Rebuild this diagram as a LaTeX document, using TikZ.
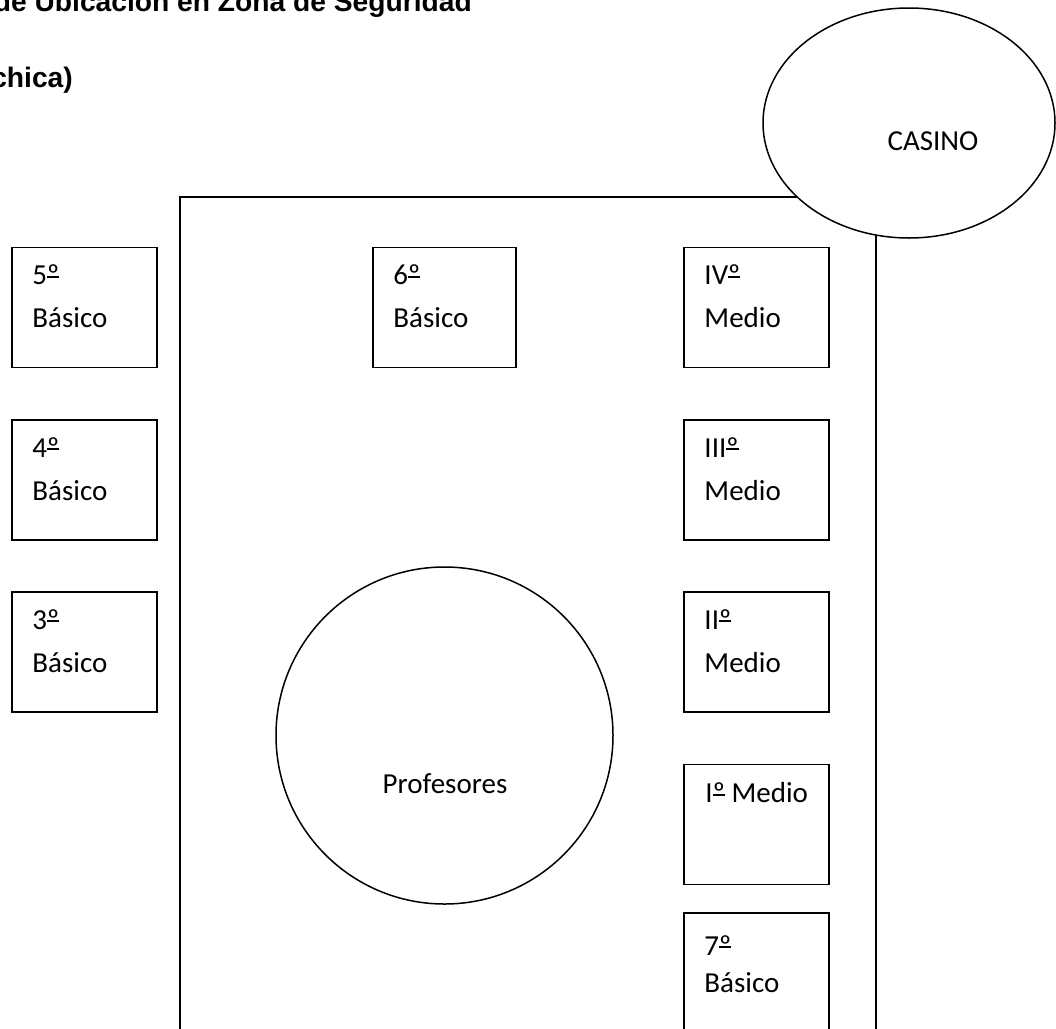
\documentclass[tikz,border=0pt]{standalone}
\usepackage{fontspec}
\setmainfont{Carlito}
\newfontfamily\titlefont{Liberation Sans}
\usetikzlibrary{shapes.geometric,calc}
\newcommand\ordm{\setbox0\hbox{º}\rlap{º}\raisebox{0.25em}{\rule{\wd0}{0.055em}}}
\begin{document}
\begin{tikzpicture}[x=1pt,y=-1pt,
  room/.style={draw, line width=1.5pt, minimum width=145pt, minimum height=120pt, inner sep=0pt, fill=white},
  lbl/.style={anchor=base west, inner sep=0pt, font=\fontsize{29}{34}\selectfont},
  clbl/.style={anchor=base, inner sep=0pt, font=\fontsize{29}{34}\selectfont},
  ttl/.style={anchor=base east, inner sep=0pt, font=\titlefont\bfseries\fontsize{28.2}{34}\selectfont},
  zone/.style={line width=1.5pt}]
\useasboundingbox (0,0) rectangle (1056,1028);
\clip (0,0) rectangle (1056,1028);
% title (cut off by the page)
\node[ttl] (t1) at (472,11) {de Ubicación en Zona de Seguridad};
\node[ttl] (t2) at (73,87) {chica)};
% zone outline
\coordinate (zsw) at (180,1045);
\coordinate (znw) at (180,197);
\coordinate (zne) at (876,197);
\coordinate (zse) at (876,1045);
\draw[zone] (zsw) -- (znw) -- (zne) -- (zse);
% casino
\node[draw, ellipse, line width=1.5pt, fill=white, minimum width=292pt, minimum height=230pt, inner sep=0pt] (casino) at (909,123) {};
\node[clbl] (casinotxt) at (933,150) {CASINO};
% profesores
\node[draw, circle, line width=1.5pt, minimum size=337pt, inner sep=0pt] (prof) at (444.5,735.5) {};
\node[clbl] (proftxt) at (445,793) {Profesores};
% rooms
\node[room] (b5) at (84.5,307.5) {};
\node[room] (b4) at (84.5,480) {};
\node[room] (b3) at (84.5,652) {};
\node[room, minimum width=143pt] (b6) at (444.5,307.5) {};
\node[room] (m4) at (756.5,307.5) {};
\node[room] (m3) at (756.5,480) {};
\node[room] (m2) at (756.5,652) {};
\node[room] (m1) at (756.5,824.5) {};
\node[room] (b7) at (756.5,973) {};
% labels
\path (b5.north west) ++(21,38) node[lbl]{5\ordm} ++(0,43) node[lbl]{Básico};
\path (b4.north west) ++(21,38) node[lbl]{4\ordm} ++(0,43) node[lbl]{Básico};
\path (b3.north west) ++(21,38) node[lbl]{3\ordm} ++(0,43) node[lbl]{Básico};
\path (b6.north west) ++(21,38) node[lbl]{6\ordm} ++(0,43) node[lbl]{Básico};
\path (m4.north west) ++(21,38) node[lbl]{IV\ordm} ++(0,43) node[lbl]{Medio};
\path (m3.north west) ++(21,38) node[lbl]{III\ordm} ++(0,43) node[lbl]{Medio};
\path (m2.north west) ++(21,38) node[lbl]{II\ordm} ++(0,43) node[lbl]{Medio};
\path (m1.north west) ++(22,39) node[lbl]{I\ordm{} Medio};
\path (b7.north west) ++(21,43) node[lbl]{7\ordm} ++(0,37) node[lbl]{Básico};
\end{tikzpicture}
\end{document}
